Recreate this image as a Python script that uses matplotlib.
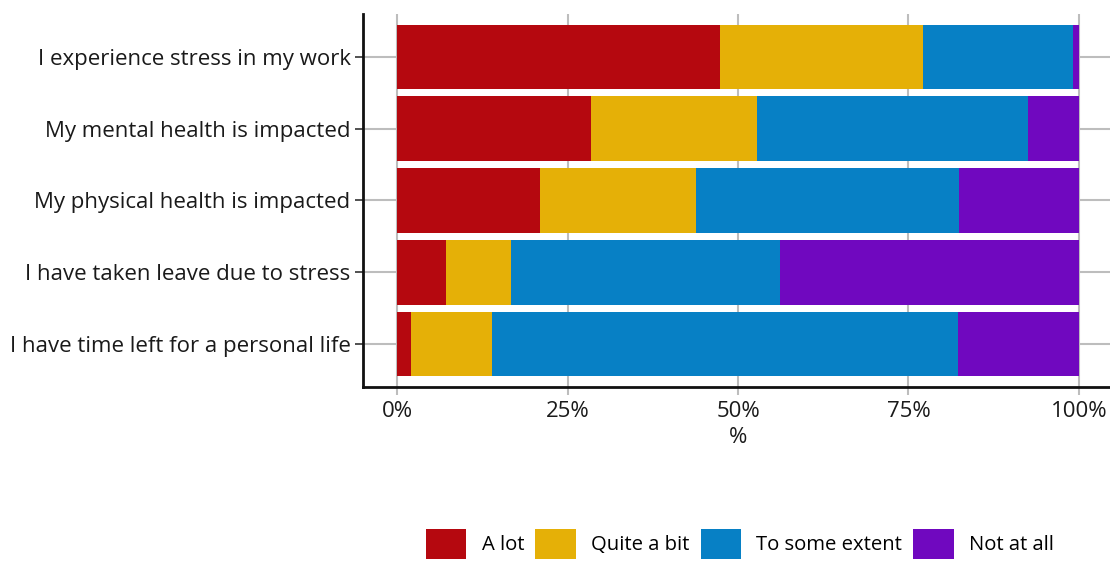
import matplotlib
matplotlib.use("Agg")
import matplotlib.pyplot as plt
from matplotlib.patches import Patch
import numpy as np

categories = [
    "I experience stress in my work",
    "My mental health is impacted",
    "My physical health is impacted",
    "I have taken leave due to stress",
    "I have time left for a personal life",
]
series_names = ["A lot", "Quite a bit", "To some extent", "Not at all"]
a_lot = [47.4, 28.5, 20.9, 7.2, 2.1]
quite_a_bit = [29.7, 24.3, 23.0, 9.5, 11.8]
some_extent = [22.0, 39.8, 38.5, 39.4, 68.3]
not_at_all = [0.9, 7.4, 17.6, 43.9, 17.8]
colors = ["#B5080F", "#E5B007", "#0780C5", "#7008BF"]
xticks = [0, 25, 50, 75, 100]
xticklabels = ["0%", "25%", "50%", "75%", "100%"]

plt.rcParams['font.family'] = ['Open Sans', 'DejaVu Sans']

fig = plt.figure(figsize=(11.1, 5.62), dpi=100)
W, H = 1110, 562
left, right = 363, 1113
top, bottom = 14, 387
ax = fig.add_axes([left / W, 1 - bottom / H, (right - left) / W, (bottom - top) / H])

ypos = np.arange(len(categories), 0, -1)  # first category at top
series = [a_lot, quite_a_bit, some_extent, not_at_all]
cum = np.zeros(len(categories))
for vals, c, name in zip(series, colors, series_names):
    ax.barh(ypos, vals, left=cum, height=0.9, color=c, label=name, zorder=2)
    cum += np.array(vals)

ax.set_xlim(-5, 105)
ax.set_ylim(0.4, len(categories) + 0.6)
ax.set_yticks(ypos)
ax.set_yticklabels(categories, fontsize=16, color="#1a1a1a")
ax.set_xticks(xticks)
ax.set_xticklabels(xticklabels, fontsize=16, color="#1a1a1a")
ax.set_xlabel("%", fontsize=16, color="#1a1a1a", labelpad=4)

ax.grid(True, color="#bdbdbd", linewidth=1.5, zorder=0)
ax.set_axisbelow(True)
for s in ["top", "right"]:
    ax.spines[s].set_visible(False)
for s in ["left", "bottom"]:
    ax.spines[s].set_color("#111111")
    ax.spines[s].set_linewidth(2)
ax.tick_params(axis="y", length=6, width=1.2, color="#333333", pad=3)
ax.tick_params(axis="x", length=6, width=1.5, color="#bdbdbd", pad=4)

handles = [Patch(facecolor=c, edgecolor="none") for c in colors]
fig.legend(handles, series_names, loc="center", bbox_to_anchor=(740 / W, 1 - 544 / H),
           ncol=4, frameon=False, fontsize=14.6, handlelength=2.0, handleheight=1.9,
           handletextpad=0.75, columnspacing=0.55)

fig.savefig("out.png", dpi=100)
